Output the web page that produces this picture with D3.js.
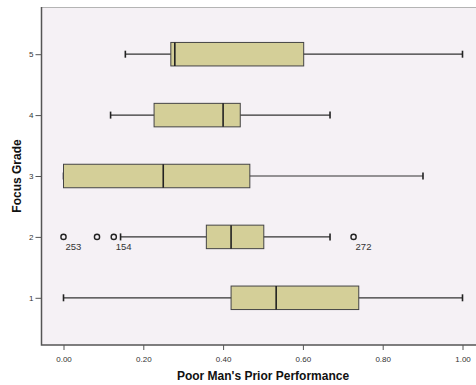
<!DOCTYPE html>
<html>
<head>
<meta charset="utf-8">
<script src="https://cdn.jsdelivr.net/npm/d3@7"></script>
<style>
  body { margin: 0; background: #fff; }
  svg { display: block; font-family: Arial, "Liberation Sans", sans-serif; }
  .tick text { fill: #333; font-size: 8px; }
</style>
</head>
<body>
<svg id="chart" width="476" height="385"></svg>
<script>
// focus grades, bottom to top
const grades = [1, 2, 3, 4, 5];
// five-number summaries
const whiskerLow = [0.00, 0.143, 0.00, 0.118, 0.155];
const q1 =         [0.42, 0.358, 0.00, 0.227, 0.269];
const median =     [0.533, 0.42, 0.25, 0.40, 0.279];
const q3 =         [0.74, 0.502, 0.467, 0.443, 0.602];
const whiskerHigh = [1.00, 0.668, 0.901, 0.668, 1.00];
// outliers: [grade, value, case label]
const outliers = [
  [2, 0.00, "253"],
  [2, 0.084, ""],
  [2, 0.126, "154"],
  [2, 0.727, "272"]
];
const xTicks = [0, 0.2, 0.4, 0.6, 0.8, 1.0];

const svg = d3.select('#chart');
const m = { left: 41.5, top: 7, right: 476, bottom: 345 };

const x = d3.scaleLinear().domain([0, 1]).range([63.5, 462.5]);
const y = d3.scalePoint().domain(grades).range([m.bottom, m.top]).padding(0.775);

svg.append('rect')
  .attr('x', m.left).attr('y', m.top)
  .attr('width', m.right - m.left).attr('height', m.bottom - m.top)
  .attr('fill', '#f5f1f5');
svg.append('line')
  .attr('x1', m.left).attr('x2', m.right).attr('y1', m.top + 0.5).attr('y2', m.top + 0.5)
  .attr('stroke', '#b4b4b4');

const boxH = 23.5;
const g = svg.append('g');
grades.forEach((d, i) => {
  const cy = y(d);
  const row = g.append('g');
  row.append('line')
    .attr('x1', x(whiskerLow[i])).attr('x2', x(whiskerHigh[i]))
    .attr('y1', cy).attr('y2', cy)
    .attr('stroke', '#333').attr('stroke-width', 1.2);
  [whiskerLow[i], whiskerHigh[i]].forEach(v => {
    row.append('line')
      .attr('x1', x(v)).attr('x2', x(v)).attr('y1', cy - 3.5).attr('y2', cy + 3.5)
      .attr('stroke', '#222').attr('stroke-width', 1.6);
  });
  row.append('rect')
    .attr('x', x(q1[i])).attr('y', cy - boxH / 2)
    .attr('width', Math.max(x(q3[i]) - x(q1[i]), 0)).attr('height', boxH)
    .attr('fill', '#d4cf98').attr('stroke', '#444').attr('stroke-width', 1);
  row.append('line')
    .attr('x1', x(median[i])).attr('x2', x(median[i]))
    .attr('y1', cy - boxH / 2).attr('y2', cy + boxH / 2)
    .attr('stroke', '#222').attr('stroke-width', 1.6);
});

outliers.forEach(([grade, v, label]) => {
  g.append('circle')
    .attr('cx', x(v)).attr('cy', y(grade)).attr('r', 2.6)
    .attr('fill', 'none').attr('stroke', '#222').attr('stroke-width', 1.4);
  if (label) {
    g.append('text')
      .attr('x', x(v) + 2).attr('y', y(grade) + 13.5)
      .attr('font-size', 9.5).attr('fill', '#333')
      .text(label);
  }
});

// axes
const xAxis = d3.axisBottom(x).tickValues(xTicks).tickFormat(d3.format('.2f')).tickSize(5).tickSizeOuter(0);
const xg = svg.append('g').attr('transform', `translate(0,${m.bottom})`).call(xAxis);
xg.select('.domain').remove();
xg.selectAll('.tick line').attr('stroke', '#555');
xg.selectAll('.tick text').attr('dy', '1.1em');

const yAxis = d3.axisLeft(y).tickSize(6).tickSizeOuter(0);
const yg = svg.append('g').attr('transform', `translate(${m.left},0)`).call(yAxis);
yg.select('.domain').remove();
yg.selectAll('.tick line').attr('stroke', '#555');
yg.selectAll('.tick text').attr('x', -8);

// frame left + bottom
svg.append('path')
  .attr('d', `M${m.left},${m.top} V${m.bottom} H${m.right}`)
  .attr('fill', 'none').attr('stroke', '#555').attr('stroke-width', 1.5);

svg.append('text')
  .attr('x', 263).attr('y', 380)
  .attr('text-anchor', 'middle').attr('font-weight', 'bold').attr('font-size', 12).attr('fill', '#111')
  .text("Poor Man's Prior Performance");
svg.append('text')
  .attr('transform', 'translate(21,176) rotate(-90)')
  .attr('text-anchor', 'middle').attr('font-weight', 'bold').attr('font-size', 12).attr('fill', '#111')
  .text('Focus Grade');
</script>
</body>
</html>
